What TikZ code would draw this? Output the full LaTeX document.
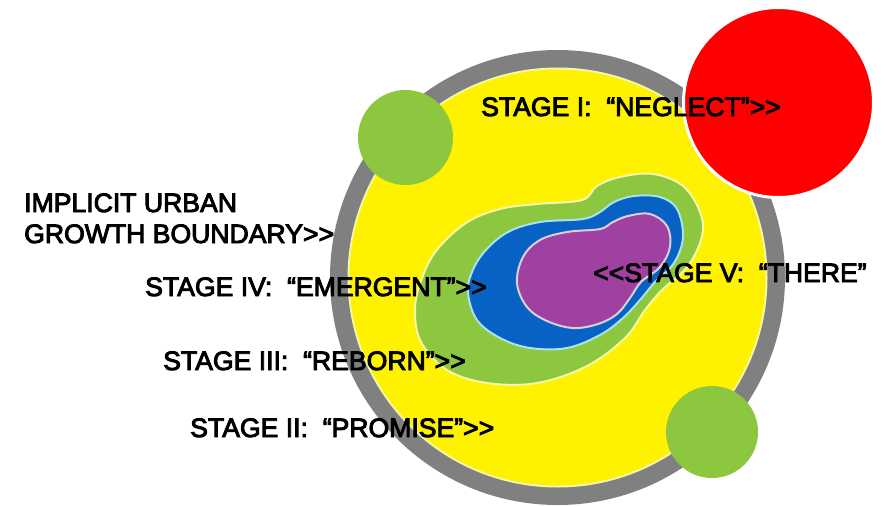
\documentclass[tikz,border=0pt]{standalone}
\usepackage{fontspec}
\setmainfont{Liberation Sans}
\newfontfamily\labfont{Liberation Sans}[FakeBold=3.5]
\definecolor{ringgray}{HTML}{808080}
\definecolor{ylw}{HTML}{FFF200}
\definecolor{paleylw}{HTML}{F4F8A8}
\definecolor{grn}{HTML}{8DC63F}
\definecolor{blu}{HTML}{0862C4}
\definecolor{cyanline}{HTML}{A8E2EA}
\definecolor{prp}{HTML}{A040A0}
\definecolor{prpline}{HTML}{D8D0DC}
\definecolor{rd}{HTML}{FF0000}
\newcommand\dsp{\hspace{0.556em}}
\begin{document}
\begin{tikzpicture}[x=1pt,y=-1pt,
  lab/.style={anchor=base west, inner sep=0pt, text=black, font=\labfont\fontsize{26.6}{31}\selectfont},
  blob/.style={smooth cycle, tension=0.6}]
\useasboundingbox (0,0) rectangle (896,506);
% boundary ring
\fill[ringgray] (557.5,277.5) circle (227.5pt);
\fill[paleylw] (557.5,277.5) circle (210pt);
\fill[ylw] (557.5,277.5) circle (208pt);
% green satellite circles
\fill[grn] (405.5,137.5) circle (47.5pt);
\fill[grn] (712,432) circle (46pt);
% stage III (green)
\filldraw[fill=grn, draw=paleylw, line width=2pt] plot[blob] coordinates {
  (415,310) (421,281) (436,251) (466,223) (500,209) (537,204) (582,200) (597,186)
  (620,177) (653,174) (683,186) (700,212) (702,236) (688,266) (662,290)
  (645,310) (625,338) (587,366) (537,383) (487,383) (447,370) (421,342)};
% stage IV (blue)
\filldraw[fill=blu, draw=cyanline, line width=2pt] plot[blob] coordinates {
  (468,293) (472,272) (485,251) (508,232) (540,222) (583,219) (600,212)
  (614,202) (634,196) (660,197) (677,209) (683,237) (674,263) (655,282)
  (640,300) (623,318) (600,335) (567,348) (530,348) (500,338) (477,320)};
% stage V (purple)
\filldraw[fill=prp, draw=prpline, line width=2pt] plot[blob] coordinates {
  (517,283) (523,257) (540,240) (567,232) (600,229) (613,222) (628,216)
  (650,214) (667,226) (670,247) (660,267) (641,282) (630,298) (617,314)
  (598,324) (573,328) (547,321) (527,307)};
% red circle
\filldraw[fill=rd, draw=white, line width=3pt] (778.5,102.5) circle (95pt);
% labels
\node[lab] (s1) at (481,116) {STAGE I:\dsp“NEGLECT”>\kern0pt>};
\node[lab] (u1) at (24,212) {IMPLICIT URBAN};
\node[lab] (u2) at (24,243) {GROWTH BOUNDARY>\kern0pt>};
\node[lab] (s4) at (145,296) {STAGE IV:\dsp“EMERGENT”>\kern0pt>};
\node[lab] (s5) at (593,282) {<\kern0pt<STAGE V:\dsp“THERE”};
\node[lab] (s3) at (163,370) {STAGE III:\dsp“REBORN”>\kern0pt>};
\node[lab] (s2) at (190,437) {STAGE II:\dsp“PROMISE”>\kern0pt>};
\end{tikzpicture}
\end{document}
